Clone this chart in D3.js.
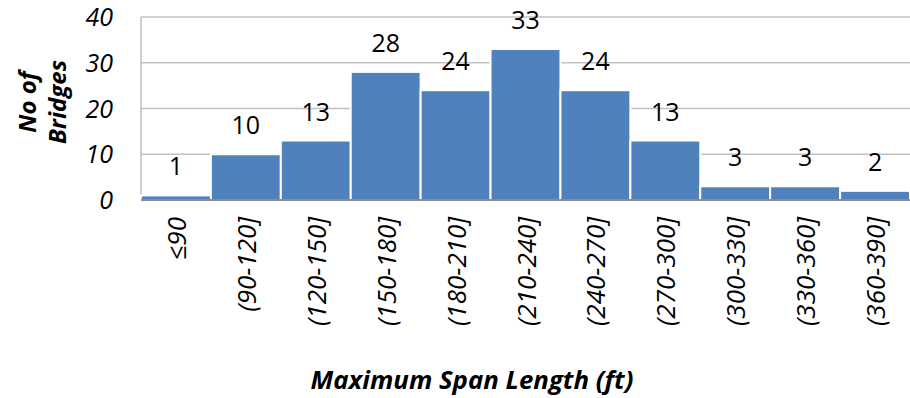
<!DOCTYPE html>
<html><head><meta charset="utf-8">
<script src="https://cdn.jsdelivr.net/npm/d3@7"></script>
<style>body{margin:0;background:#fff}svg{display:block}text{font-family:"Open Sans","Noto Sans",sans-serif}</style>
</head><body>
<script>
const categories = ["\u226490","(90-120]","(120-150]","(150-180]","(180-210]","(210-240]","(240-270]","(270-300]","(300-330]","(330-360]","(360-390]"];
const counts = [1,10,13,28,24,33,24,13,3,3,2];
const yTicks = [0,10,20,30,40];
const xTitle = "Maximum Span Length (ft)";
const yTitle = ["No of","Bridges"];

const W=910,H=398;
const svg=d3.select("body").append("svg").attr("width",W).attr("height",H);
const x=d3.scaleBand().domain(categories).range([141,910]).padding(0);
const y=d3.scaleLinear().domain([0,40]).range([200,17]);

svg.append("g").selectAll("line").data(yTicks.filter(d=>d>0)).join("line")
  .attr("x1",141).attr("x2",910).attr("y1",d=>y(d)).attr("y2",d=>y(d))
  .attr("stroke","#c0c0c0").attr("stroke-width",1.5);
svg.append("line").attr("x1",141).attr("x2",141).attr("y1",y(40)).attr("y2",y(0)).attr("stroke","#c0c0c0").attr("stroke-width",1.5);

svg.append("g").selectAll("rect").data(counts).join("rect")
  .attr("x",(d,i)=>x(categories[i])).attr("width",x.bandwidth())
  .attr("y",d=>y(d)).attr("height",d=>y(0)-y(d))
  .attr("fill","#4f81bd").attr("stroke","#fff").attr("stroke-width",2);

svg.append("line").attr("x1",141).attr("x2",910).attr("y1",y(0)).attr("y2",y(0)).attr("stroke","#8c8c8c").attr("stroke-width",2);

// y tick labels
svg.append("g").selectAll("text").data(yTicks).join("text")
  .attr("x",113).attr("y",d=>y(d)).attr("dy","0.36em").attr("text-anchor","end")
  .attr("font-size",25).attr("font-style","italic").attr("fill","#000").text(d=>d);

// value labels
svg.append("g").selectAll("text").data(counts).join("text")
  .attr("x",(d,i)=>x(categories[i])+x.bandwidth()/2).attr("y",d=>y(d)-20)
  .attr("text-anchor","middle").attr("font-size",25).attr("fill","#000").text(d=>d);

// x tick labels
svg.append("g").selectAll("text").data(categories).join("text")
  .attr("transform",d=>`translate(${x(d)+x.bandwidth()/2+10},217) rotate(-90)`)
  .attr("text-anchor","end").attr("font-size",26).attr("font-style","italic").attr("fill","#000").text(d=>d);

// titles
svg.append("text").attr("x",472).attr("y",389).attr("text-anchor","middle")
  .attr("font-size",25.8).attr("font-weight","bold").attr("font-style","italic").text(xTitle);
svg.append("g").attr("transform","translate(0,102) rotate(-90)").selectAll("text").data(yTitle).join("text")
  .attr("x",0).attr("y",(d,i)=>36+i*30).attr("text-anchor","middle")
  .attr("font-size",24).attr("font-weight","bold").attr("font-style","italic").text(d=>d);
</script>
</body></html>
